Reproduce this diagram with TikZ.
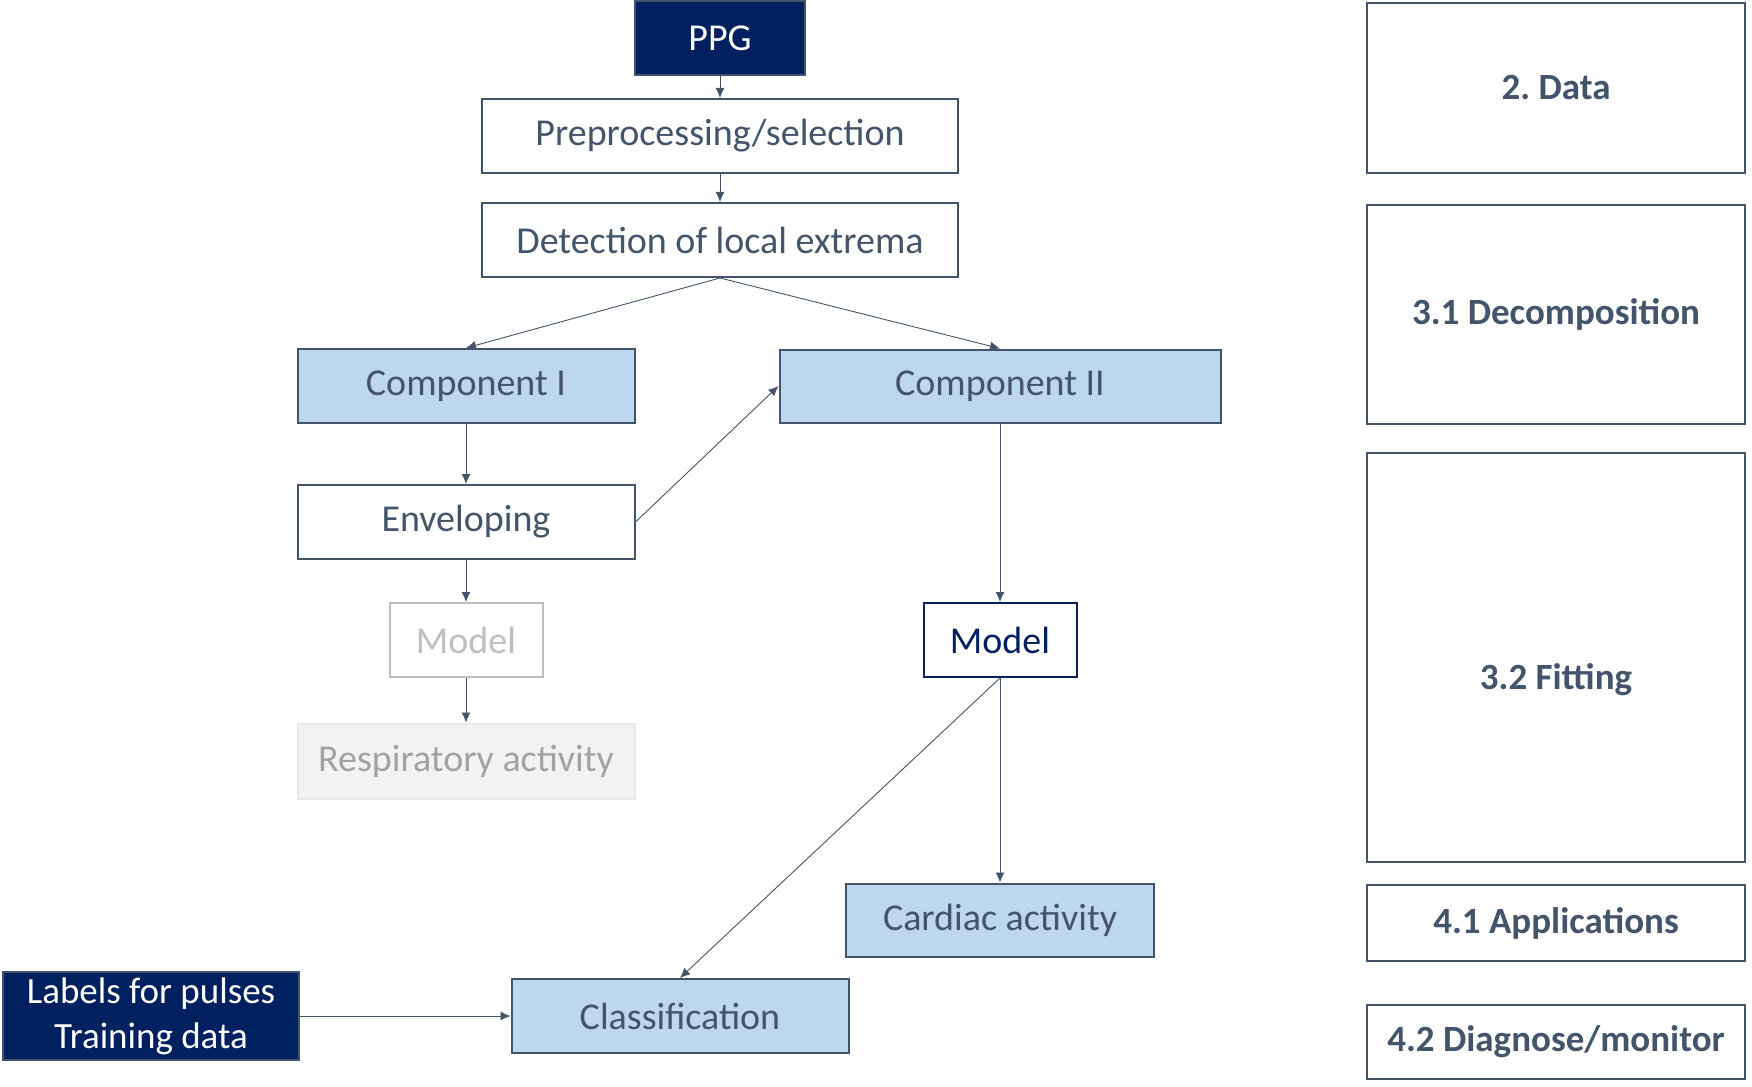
\documentclass[tikz,border=0pt]{standalone}
\usepackage{fontspec}
\setmainfont{Carlito}
\usetikzlibrary{positioning,arrows.meta}

\definecolor{slate}{HTML}{44546A}
\definecolor{navy}{HTML}{002060}
\definecolor{paleblue}{HTML}{BDD7EE}
\definecolor{ghost}{HTML}{BFBFBF}
\definecolor{ghostfill}{HTML}{F2F2F2}

\tikzset{
    box/.style={rectangle, draw=slate, line width=2pt, fill=white, text=slate,
        inner sep=0pt, font=\fontsize{38}{45}\selectfont},
    darkbox/.style={box, fill=navy, text=white},
    bluebox/.style={box, fill=paleblue},
    ghostbox/.style={box, draw=ghost, text=ghost},
    greybox/.style={box, draw=ghostfill!80!ghost, fill=ghostfill, text=ghost!85!black},
    section/.style={box, font=\fontsize{37}{44}\selectfont\bfseries},
    flow/.style={-{Latex[length=10pt,width=9pt]}, draw=slate, line width=0.9pt}
}

\begin{document}
\frenchspacing
\begin{tikzpicture}[x=1pt,y=-1pt]
        \useasboundingbox (0,0) rectangle (1752,1086);

        % main flow
        \node[darkbox, minimum width=170, minimum height=74] (ppg) at (720,38) {PPG};
        \node[box, minimum width=476, minimum height=74] (prep) at (720,136) {Preprocessing/selection};
        \node[box, minimum width=476, minimum height=74] (detect) at (720,240) {Detection of local extrema};

        \node[bluebox, minimum width=337, minimum height=74] (comp1) at (466,386) {Component I};
        \node[bluebox, minimum width=441, minimum height=73] (comp2) at (1000,386) {Component II};

        \node[box, minimum width=337, minimum height=74] (envel) at (466,522) {Enveloping};
        \node[ghostbox, minimum width=153, minimum height=74] (model1) at (466,640) {Model};
        \node[greybox, minimum width=337, minimum height=75] (resp) at (466,761) {Respiratory activity};

        \node[box, draw=navy, text=navy, minimum width=153, minimum height=74] (model2) at (1000,640) {Model};
        \node[bluebox, minimum width=308, minimum height=73] (cardiac) at (1000,920) {Cardiac activity};
        \node[bluebox, minimum width=337, minimum height=74] (classif) at (680,1016) {Classification};
        \node[darkbox, align=center, minimum width=296, minimum height=88,
              font=\fontsize{37}{45}\selectfont] (labels) at (151,1016) {Labels for pulses\\Training data};

        \draw[flow] (ppg) -- (prep);
        \draw[flow] (prep) -- (detect);
        \draw[flow] (detect.south) -- (comp1.north);
        \draw[flow] (detect.south) -- (comp2.north);
        \draw[flow] (comp1) -- (envel);
        \draw[flow] (envel.east) -- (comp2.west);
        \draw[flow] (envel) -- (model1);
        \draw[flow] (model1) -- (resp);
        \draw[flow] (comp2) -- (model2);
        \draw[flow] (model2) -- (cardiac);
        \draw[flow] (model2.south) -- (classif.north);
        \draw[flow] (labels) -- (classif);

        % sections
        \node[section, minimum width=378, minimum height=170] (sdata) at (1556,88) {2. Data};
        \node[section, minimum width=378, minimum height=219] (sdecomp) at (1556,314) {3.1 Decomposition};
        \node[section, minimum width=378, minimum height=409] (sfit) at (1556,657) {};
        \node[section, draw=none, fill=none, yshift=-23pt] (sfittext) at (sfit.center) {3.2 Fitting};
        \node[section, minimum width=378, minimum height=76] (sapp) at (1556,923) {4.1 Applications};
        \node[section, minimum width=378, minimum height=74] (sdiag) at (1556,1042) {4.2 Diagnose/monitor};
    \end{tikzpicture}
\end{document}
